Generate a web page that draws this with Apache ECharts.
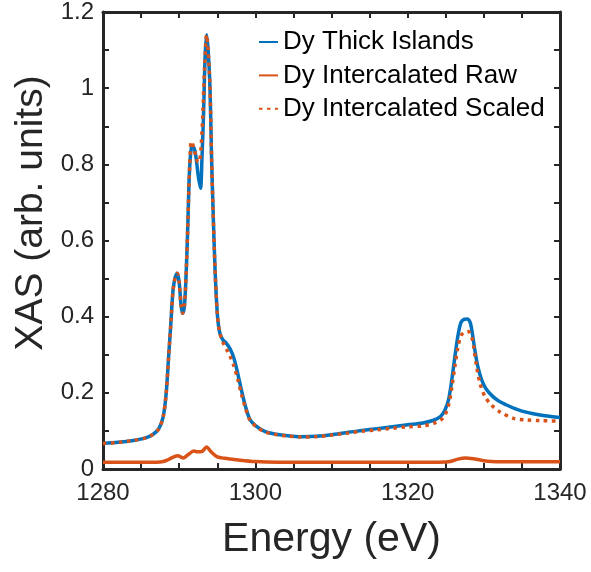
<!DOCTYPE html>
<html>
<head>
<meta charset="utf-8">
<script src="https://cdn.jsdelivr.net/npm/echarts@6/dist/echarts.min.js"></script>
<style>
html,body{margin:0;padding:0;background:#fff;}
#chart{width:591px;height:572px;}
</style>
</head>
<body>
<div id="chart"></div>
<script>
// ---- Data ----
const xTicks = [1280, 1300, 1320, 1340];
const yTicks = [0, 0.2, 0.4, 0.6, 0.8, 1, 1.2];
const seriesNames = ['Dy Thick Islands', 'Dy Intercalated Raw', 'Dy Intercalated Scaled'];

const thickE = [1280,1282,1284,1285.5,1286.5,1287.3,1287.9,1288.3,1288.6,1288.9,1289.2,1289.5,1289.75,1290.0,1290.25,1290.45,1290.7,1290.95,1291.15,1291.35,1291.6,1291.9,1292.2,1292.5,1292.8,1293.0,1293.2,1293.4,1293.6,1293.8,1294.05,1294.25,1294.45,1294.7,1295.0,1295.3,1295.7,1296.2,1296.7,1297.2,1297.7,1298.2,1298.7,1299.3,1300.2,1301.3,1302.5,1304,1306,1308,1310,1312,1314,1316,1318,1320,1322,1323.4,1324.3,1324.9,1325.4,1325.8,1326.2,1326.6,1327.0,1327.4,1327.8,1328.2,1328.5,1328.8,1329.2,1329.7,1330.3,1331.2,1332,1333,1334,1335,1336.5,1338,1340];
const thickV = [0.067,0.070,0.075,0.081,0.090,0.105,0.137,0.20,0.29,0.38,0.47,0.505,0.514,0.49,0.43,0.409,0.43,0.53,0.65,0.78,0.843,0.845,0.82,0.77,0.737,0.82,0.93,1.08,1.14,1.10,1.00,0.82,0.68,0.53,0.41,0.36,0.34,0.33,0.315,0.29,0.25,0.205,0.165,0.13,0.111,0.098,0.092,0.088,0.085,0.086,0.090,0.096,0.101,0.106,0.111,0.116,0.121,0.128,0.138,0.155,0.185,0.235,0.295,0.35,0.385,0.393,0.394,0.385,0.355,0.315,0.27,0.235,0.21,0.19,0.178,0.168,0.159,0.152,0.145,0.140,0.135];

const rawE = [1280,1287,1287.9,1288.6,1289.2,1289.8,1290.5,1291.2,1291.9,1292.5,1293.0,1293.6,1294.2,1295.0,1296,1298,1300,1303,1324,1325.6,1326.6,1327.6,1328.6,1329.8,1331,1334,1340];
const rawV = [0.018,0.018,0.0195,0.025,0.031,0.035,0.029,0.038,0.047,0.045,0.046,0.058,0.045,0.032,0.028,0.023,0.0195,0.018,0.018,0.0195,0.026,0.029,0.027,0.0225,0.020,0.019,0.019];

const scaledE = [1280,1282,1284,1285.5,1286.5,1287.3,1287.9,1288.3,1288.6,1288.9,1289.2,1289.5,1289.75,1290.0,1290.25,1290.45,1290.7,1290.95,1291.15,1291.35,1291.6,1291.9,1292.2,1292.5,1292.7,1292.9,1293.1,1293.35,1293.6,1293.8,1294.05,1294.25,1294.45,1294.7,1295.0,1295.3,1295.7,1296.2,1296.7,1297.2,1297.7,1298.2,1298.7,1299.3,1300.2,1301.3,1302.5,1304,1306,1308,1310,1312,1314,1316,1318,1320,1322,1323.4,1324.3,1324.9,1325.4,1325.8,1326.2,1326.6,1327.0,1327.5,1327.95,1328.4,1328.7,1329.05,1329.5,1330.15,1331,1332.1,1333.9,1335.6,1337.5,1340];
const scaledV = [0.067,0.070,0.075,0.081,0.090,0.105,0.137,0.20,0.29,0.38,0.47,0.505,0.514,0.49,0.43,0.409,0.43,0.53,0.65,0.78,0.86,0.845,0.82,0.805,0.81,0.85,0.93,1.06,1.14,1.10,1.00,0.82,0.68,0.53,0.41,0.36,0.335,0.315,0.295,0.27,0.235,0.195,0.16,0.128,0.110,0.097,0.091,0.087,0.084,0.085,0.089,0.094,0.099,0.103,0.107,0.111,0.113,0.120,0.128,0.142,0.17,0.215,0.27,0.32,0.35,0.36,0.361,0.347,0.317,0.269,0.225,0.19,0.168,0.15,0.133,0.129,0.127,0.126];

const zip = (a, b) => a.map((x, i) => [x, b[i]]);

const FONT = 'Liberation Sans, Arial, Helvetica, sans-serif';
const AX = '#262626';
const BLUE = '#0072BD';
const ORANGE = '#D95319';

const chart = echarts.init(document.getElementById('chart'), null, {renderer: 'canvas'});

const baseX = {
  type: 'value', min: xTicks[0], max: xTicks[xTicks.length - 1], interval: 20,
  axisLine: {show: true, onZero: false, lineStyle: {color: AX, width: 3}},
  axisTick: {show: true, inside: true, length: 6, lineStyle: {color: AX, width: 2}},
  minorTick: {show: true, splitNumber: 4, length: 6, lineStyle: {color: AX, width: 2}},
  splitLine: {show: false}, minorSplitLine: {show: false}
};
const baseY = {
  type: 'value', min: yTicks[0], max: yTicks[yTicks.length - 1], interval: 0.2,
  axisLine: {show: true, onZero: false, lineStyle: {color: AX, width: 3}},
  axisTick: {show: true, inside: true, length: 6, lineStyle: {color: AX, width: 2}},
  minorTick: {show: true, splitNumber: 2, length: 6, lineStyle: {color: AX, width: 2}},
  splitLine: {show: false}, minorSplitLine: {show: false}
};

chart.setOption({
  animation: false,
  backgroundColor: '#ffffff',
  grid: {left: 103, right: 31, top: 12, bottom: 103},
  xAxis: [
    Object.assign({}, baseX, {
      position: 'bottom',
      axisLabel: {show: true, color: AX, fontSize: 24, fontFamily: FONT, margin: 12,
                  formatter: v => String(v)},
      name: 'Energy (eV)', nameLocation: 'middle', nameGap: 50,
      nameTextStyle: {color: AX, fontSize: 41, fontFamily: FONT}
    }),
    Object.assign({}, baseX, {position: 'top', axisLabel: {show: false}})
  ],
  yAxis: [
    Object.assign({}, baseY, {
      position: 'left',
      axisLabel: {show: true, color: AX, fontSize: 24, fontFamily: FONT, margin: 9}
    }),
    Object.assign({}, baseY, {position: 'right', axisLabel: {show: false}})
  ],
  graphic: [{
    type: 'text', x: 31, y: 213, rotation: Math.PI / 2,
    style: {text: 'XAS (arb. units)', fill: AX, font: '39px ' + FONT, align: 'center', verticalAlign: 'middle'}
  }],
  legend: {
    orient: 'vertical', left: 258, top: 28, padding: 0, itemWidth: 19, itemHeight: 10, itemGap: 5.4,
    itemStyle: {opacity: 0},
    textStyle: {color: '#000', fontSize: 26, fontFamily: FONT, lineHeight: 28},
    data: seriesNames
  },
  series: [
    {name: seriesNames[0], type: 'line', data: zip(thickE, thickV), showSymbol: false, symbol: 'none',
     smooth: 0.3, color: BLUE, lineStyle: {color: BLUE, width: 3.5}, z: 2},
    {name: seriesNames[1], type: 'line', data: zip(rawE, rawV), showSymbol: false, symbol: 'none',
     smooth: 0.3, color: ORANGE, lineStyle: {color: ORANGE, width: 3.5}, z: 3},
    {name: seriesNames[2], type: 'line', data: zip(scaledE, scaledV), showSymbol: false, symbol: 'none',
     smooth: 0.3, color: ORANGE, lineStyle: {color: ORANGE, width: 3.5, type: [3.5, 4.5]}, z: 4}
  ]
});
</script>
</body>
</html>
